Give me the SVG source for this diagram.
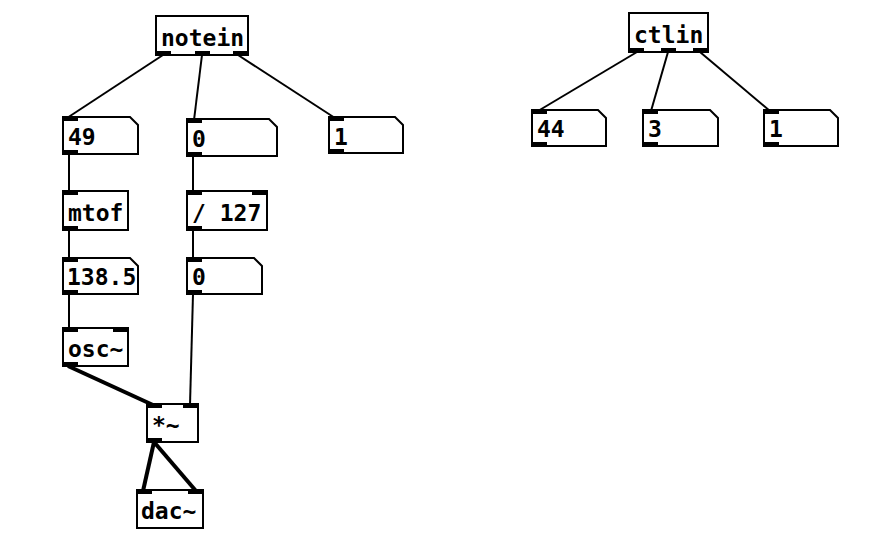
<svg xmlns="http://www.w3.org/2000/svg" width="885" height="546" viewBox="0 0 885 546">
<style>
.box{fill:#fff;stroke:#000;stroke-width:2}
.io{fill:#000}
.t{font-family:"DejaVu Sans Mono",monospace;font-weight:bold;font-size:23px;fill:#000}
.c{stroke:#000;stroke-width:2;fill:none}
.s{stroke:#000;stroke-width:4;fill:none}
</style>
<rect width="885" height="546" fill="#fff"/>
<g id="connectors">
<line class="c" x1="163" y1="55" x2="67" y2="118"/>
<line class="c" x1="202" y1="55" x2="194" y2="120"/>
<line class="c" x1="238" y1="55" x2="335" y2="118"/>
<line class="c" x1="69" y1="154" x2="69" y2="192"/>
<line class="c" x1="69" y1="230" x2="69" y2="259"/>
<line class="c" x1="69" y1="294" x2="69" y2="329"/>
<line class="c" x1="193" y1="156" x2="193" y2="192"/>
<line class="c" x1="193" y1="230" x2="193" y2="259"/>
<line class="c" x1="193" y1="294" x2="190" y2="405"/>
<line class="s" x1="68" y1="366" x2="153" y2="405"/>
<line class="s" x1="154" y1="442" x2="143" y2="491"/>
<line class="s" x1="154" y1="442" x2="196" y2="491"/>
<line class="c" x1="637" y1="52" x2="538" y2="111"/>
<line class="c" x1="668" y1="52" x2="651" y2="111"/>
<line class="c" x1="700" y1="52" x2="770" y2="111"/>
</g>
<g id="notein">
<rect class="box" x="156" y="16" width="92" height="39"/>
<rect class="io" x="156" y="51" width="15" height="4"/>
<rect class="io" x="195" y="51" width="15" height="4"/>
<rect class="io" x="233" y="51" width="15" height="4"/>
<text class="t" x="161" y="46">notein</text>
</g>
<g id="num49">
<polygon class="box" points="63,117 130,117 138,125 138,154 63,154"/>
<rect class="io" x="63" y="117" width="15" height="4"/>
<rect class="io" x="63" y="150" width="15" height="4"/>
<text class="t" x="68" y="145">49</text>
</g>
<g id="num0a">
<polygon class="box" points="187,119 269,119 277,127 277,156 187,156"/>
<rect class="io" x="187" y="119" width="15" height="4"/>
<rect class="io" x="187" y="152" width="15" height="4"/>
<text class="t" x="192" y="147">0</text>
</g>
<g id="num1a">
<polygon class="box" points="329,117 395,117 403,125 403,153 329,153"/>
<rect class="io" x="329" y="117" width="15" height="4"/>
<rect class="io" x="329" y="149" width="15" height="4"/>
<text class="t" x="334" y="145">1</text>
</g>
<g id="mtof">
<rect class="box" x="63" y="191" width="65" height="39"/>
<rect class="io" x="63" y="191" width="15" height="4"/>
<rect class="io" x="63" y="226" width="15" height="4"/>
<text class="t" x="68" y="221">mtof</text>
</g>
<g id="div127">
<rect class="box" x="187" y="191" width="80" height="39"/>
<rect class="io" x="187" y="191" width="15" height="4"/>
<rect class="io" x="252" y="191" width="15" height="4"/>
<rect class="io" x="187" y="226" width="15" height="4"/>
<text class="t" x="192" y="221">/ 127</text>
</g>
<g id="num138">
<polygon class="box" points="63,258 130,258 138,266 138,294 63,294"/>
<rect class="io" x="63" y="258" width="15" height="4"/>
<rect class="io" x="63" y="290" width="15" height="4"/>
<text class="t" x="67" y="285">138.5</text>
</g>
<g id="num0b">
<polygon class="box" points="187,258 254,258 262,266 262,294 187,294"/>
<rect class="io" x="187" y="258" width="15" height="4"/>
<rect class="io" x="187" y="290" width="15" height="4"/>
<text class="t" x="192" y="285">0</text>
</g>
<g id="osc">
<rect class="box" x="63" y="328" width="65" height="38"/>
<rect class="io" x="63" y="328" width="15" height="4"/>
<rect class="io" x="113" y="328" width="15" height="4"/>
<rect class="io" x="63" y="362" width="15" height="4"/>
<text class="t" x="68" y="357">osc~</text>
</g>
<g id="mul">
<rect class="box" x="147" y="404" width="51" height="38"/>
<rect class="io" x="147" y="404" width="15" height="4"/>
<rect class="io" x="183" y="404" width="15" height="4"/>
<rect class="io" x="147" y="438" width="15" height="4"/>
<text class="t" x="152" y="433">*~</text>
</g>
<g id="dac">
<rect class="box" x="137" y="490" width="66" height="38"/>
<rect class="io" x="137" y="490" width="15" height="4"/>
<rect class="io" x="188" y="490" width="15" height="4"/>
<text class="t" x="141" y="519">dac~</text>
</g>
<g id="ctlin">
<rect class="box" x="629" y="13" width="79" height="39"/>
<rect class="io" x="629" y="48" width="15" height="4"/>
<rect class="io" x="661" y="48" width="15" height="4"/>
<rect class="io" x="693" y="48" width="15" height="4"/>
<text class="t" x="634" y="43">ctlin</text>
</g>
<g id="num44">
<polygon class="box" points="532,110 598,110 606,118 606,146 532,146"/>
<rect class="io" x="532" y="110" width="15" height="4"/>
<rect class="io" x="532" y="142" width="15" height="4"/>
<text class="t" x="537" y="137">44</text>
</g>
<g id="num3">
<polygon class="box" points="643,110 710,110 718,118 718,146 643,146"/>
<rect class="io" x="643" y="110" width="15" height="4"/>
<rect class="io" x="643" y="142" width="15" height="4"/>
<text class="t" x="648" y="137">3</text>
</g>
<g id="num1b">
<polygon class="box" points="764,110 830,110 838,118 838,146 764,146"/>
<rect class="io" x="764" y="110" width="15" height="4"/>
<rect class="io" x="764" y="142" width="15" height="4"/>
<text class="t" x="769" y="137">1</text>
</g>
</svg>
